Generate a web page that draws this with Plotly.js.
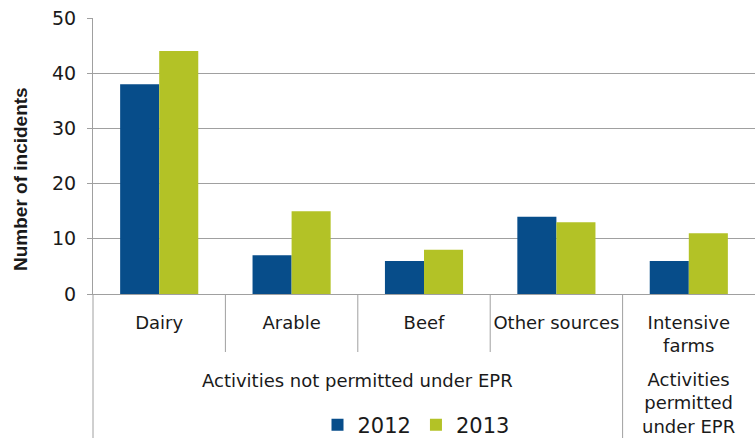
<!DOCTYPE html>
<html><head><meta charset="utf-8">
<script src="https://cdn.plot.ly/plotly-3.0.1.min.js"></script>
<style>html,body{margin:0;padding:0;background:#fff}#chart{width:755px;height:438px}</style>
</head><body><div id="chart"></div>
<script>
const categories = ["Dairy", "Arable", "Beef", "Other sources", "Intensive<br>farms"];
const values2012 = [38, 7, 6, 14, 6];
const values2013 = [44, 15, 8, 13, 11];
const seriesNames = ["2012", "2013"];
const yTicks = [0, 10, 20, 30, 40, 50];
const groupLabels = ["Activities not permitted under EPR", "Activities<br>permitted<br>under EPR"];
const groupFirst = [0, 4];
const groupLast = [3, 4];
const yTitle = "Number of incidents";

const H = 276, W = 662;
const py = px => (294 - px) / H;
const gray = "#A0A0A0";
const txt = "#1a1a1a";

const traces = [
  {type: "bar", name: seriesNames[0], x: categories, y: values2012, marker: {color: "#074D8A"}},
  {type: "bar", name: seriesNames[1], x: categories, y: values2013, marker: {color: "#B3C226"}}
];

const shapes = [];
for (let i = 0; i < categories.length - 1; i++) {
  const b = i + 0.5;
  const isGroupEdge = groupLast.indexOf(i) >= 0;
  shapes.push({type: "line", xref: "x", yref: "paper", x0: b, x1: b, y0: 0, y1: isGroupEdge ? py(438) : py(352), line: {color: gray, width: 1}});
}
shapes.push({type: "line", xref: "paper", yref: "paper", x0: 0, x1: 0, y0: 0, y1: py(438), line: {color: gray, width: 1}});

const annotations = groupLabels.map((g, i) => ({
  text: g, xref: "x", yref: "paper",
  x: (groupFirst[i] + groupLast[i]) / 2,
  y: i === 0 ? py(380) : py(403),
  showarrow: false, xanchor: "center", yanchor: "middle",
  font: {family: "DejaVu Sans", size: 18, color: txt}
}));
annotations.push({
  text: "<b>" + yTitle + "</b>", xref: "paper", yref: "paper",
  x: (21 - 93) / W, y: py(179), textangle: -90, showarrow: false,
  xanchor: "center", yanchor: "middle",
  font: {family: "Liberation Sans", size: 19, color: txt}
});

const layout = {
  width: 755, height: 438,
  margin: {l: 93, r: 0, t: 18, b: 144, pad: 0, autoexpand: false},
  paper_bgcolor: "#fff", plot_bgcolor: "#fff",
  bargap: 0.41, bargroupgap: 0, barmode: "group",
  xaxis: {type: "category", range: [-0.5, 4.5], showline: true, linecolor: gray, linewidth: 1,
    ticks: "", showgrid: false, tickfont: {family: "DejaVu Sans", size: 18, color: txt},
    ticklabelstandoff: 12, fixedrange: true, automargin: false},
  yaxis: {range: [0, 50], tickvals: yTicks, showgrid: true, gridcolor: gray, gridwidth: 1,
    showline: true, linecolor: gray, ticks: "outside", ticklen: 5, tickcolor: gray,
    tickfont: {family: "DejaVu Sans", size: 19, color: txt}, zeroline: false, ticklabelstandoff: 7, automargin: false},
  showlegend: true,
  legend: {orientation: "h", x: (416 - 93) / W, xanchor: "center", y: py(425), yanchor: "middle",
    font: {family: "DejaVu Sans", size: 21, color: txt}, itemwidth: 30, tracegroupgap: 0},
  shapes: shapes, annotations: annotations
};

Plotly.newPlot("chart", traces, layout, {displayModeBar: false, staticPlot: true});
</script></body></html>
